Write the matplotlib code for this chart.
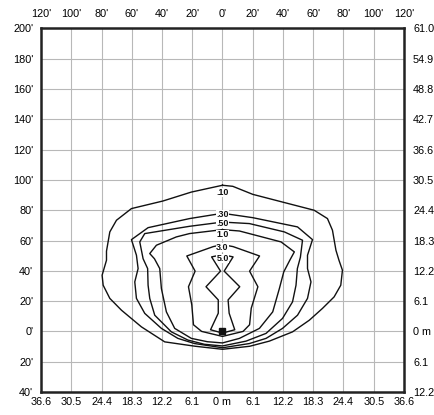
import matplotlib
matplotlib.use('Agg')
import matplotlib.pyplot as plt

plt.rcParams['font.family'] = ['Liberation Sans', 'DejaVu Sans']

# axis ticks (feet) and their labels
x_ticks = list(range(-120, 121, 20))
y_ticks = list(range(-40, 201, 20))
x_ft_labels = ["120'", "100'", "80'", "60'", "40'", "20'", "0'",
               "20'", "40'", "60'", "80'", "100'", "120'"]
x_m_labels = ["36.6", "30.5", "24.4", "18.3", "12.2", "6.1", "0 m",
              "6.1", "12.2", "18.3", "24.4", "30.5", "36.6"]
y_ft_labels = ["40'", "20'", "0'", "20'", "40'", "60'", "80'",
               "100'", "120'", "140'", "160'", "180'", "200'"]
y_m_labels = ["12.2", "6.1", "0 m", "6.1", "12.2", "18.3", "24.4",
              "30.5", "36.6", "42.7", "48.8", "54.9", "61.0"]

# isofootcandle contours (feet)
levels = [".10", ".30", ".50", "1.0", "3.0", "5.0"]
label_y = [92, 77.4, 71.2, 64.2, 55.5, 48.2]

c010_x = [0, 6.8, 20, 39.7, 60.6, 69.4, 72.7, 75, 77, 79.3, 78.2, 73.8, 66.1, 57.4,
          46.3, 31, 18, 0, -18, -38.2, -53.6, -66.8, -74.5, -78.9, -79.6, -76.7,
          -76.7, -74.5, -70.1, -60.2, -39.4, -20.6, 0]
c010_y = [96.5, 95.8, 90.5, 85.4, 80, 74.5, 66.8, 53.6, 47, 40.4, 30.5, 22.8, 15.2, 7.4,
          -0.3, -6.4, -9.8, -11.8, -9.8, -6.9, 3, 14, 21.8, 30.5, 37.1, 47,
          53, 65.7, 73.4, 81.1, 86.1, 92, 96.5]

c030_x = [0, 20, 49.6, 59.5, 56.2, 56.2, 58.5, 56.2, 49.6, 39.7, 28.8, 17.8, 0,
          -18.5, -29.5, -40.4, -51.4, -56.9, -58, -55.8, -56.9, -60.2, -49.2, -21.8, 0]
c030_y = [78, 75.1, 69, 60.6, 50.3, 41.5, 32.7, 21.8, 10.7, 2, -4.6, -8, -10.8,
          -8, -4.6, 2, 11.9, 21.8, 32.7, 41.5, 50.3, 60.6, 68.5, 74.5, 78]

c050_x = [0, 17.8, 40.9, 52.9, 51.5, 49.5, 48.6, 46.3, 39.7, 28.8, 15.6, 0,
          -12, -22.9, -33.8, -44.8, -48.1, -49.2, -49.5, -52.5, -54.7, -51.4, -21.8, 0]
c050_y = [72.2, 71.2, 65.7, 60.2, 49, 41.5, 30.5, 19.5, 8.6, -1.3, -6.4, -9.6,
          -8.5, -5.7, -0.3, 10.7, 21.8, 30.5, 41.5, 48, 59.1, 64.6, 69.4, 72.2]

c100_x = [0, 11.2, 38.7, 47.5, 44.5, 40.5, 37.6, 33.2, 24.4, 11.2, 0,
          -10, -20.6, -31.6, -37.1, -40.4, -41.5, -45, -48.1, -43.7, -30.5, -21.8, 0]
c100_y = [67.2, 66.3, 59.1, 52.5, 47, 39.3, 28.3, 12.9, 2, -4.6, -7.6,
          -6.8, -4.6, 2, 12.9, 28.3, 41.5, 48, 51.4, 56.9, 62.4, 64.6, 67.2]

c300_x = [0, 7, 24.5, 17.9, 23.4, 19, 17.9, 13.6, 0, -13.8, -19.2, -20.3,
          -22.5, -18.1, -23.6, -6.1, 0]
c300_y = [57.3, 56, 49.8, 39.8, 29.5, 15.3, 4.4, 0, -3.3, 0, 4.4, 17.5,
          29.5, 39.8, 49.8, 56, 57.3]

c500_x = [0, 7, 1.1, 11.4, 3.7, 4.4, 8.1, 0, -7.9, -2.8, -2.8, -10.9, -1.3, -7.2, 0]
c500_y = [50.7, 49.2, 39.8, 29.5, 20.8, 12, 1.1, -1.1, 1.1, 12, 20.8, 29.5, 39.8, 49.2, 50.7]

contours = [(c010_x, c010_y), (c030_x, c030_y), (c050_x, c050_y),
            (c100_x, c100_y), (c300_x, c300_y), (c500_x, c500_y)]

# luminaire location
lum_x = [0]
lum_y = [0.5]

fig = plt.figure(figsize=(4.35, 4.15), dpi=100)
ax = fig.add_axes([41 / 435, 23 / 415, 363 / 435, 363.5 / 415])

for cx, cy in contours:
    ax.plot(cx, cy, color='#111111', lw=1.0, zorder=3)

ax.plot(lum_x, lum_y, 's', color='#111111', ms=4.5, zorder=4)

for lev, ly in zip(levels, label_y):
    ax.text(0, ly, lev, ha='center', va='center', fontsize=6.4,
            fontweight='bold', color='#111111', zorder=5,
            bbox=dict(boxstyle='square,pad=0.0', facecolor='white', edgecolor='none'))

ax.set_xlim(-120, 120)
ax.set_ylim(-40, 200)
ax.set_xticks(x_ticks)
ax.set_yticks(y_ticks)
ax.set_xticklabels(x_m_labels)
ax.set_yticklabels(y_ft_labels)
ax.grid(True, color='#b8b8b8', lw=0.8, zorder=1)
ax.set_axisbelow(True)
ax.tick_params(axis='x', length=0, pad=3.5, labelsize=7.8)
ax.tick_params(axis='y', length=0, pad=5.5, labelsize=7.8)
for sp in ax.spines.values():
    sp.set_linewidth(1.8)
    sp.set_color('#222222')

top = ax.twiny()
top.set_xlim(ax.get_xlim())
top.set_xticks(x_ticks)
top.set_xticklabels(x_ft_labels)
top.tick_params(axis='x', length=0, pad=6.5, labelsize=7.8)

right = ax.twinx()
right.set_ylim(ax.get_ylim())
right.set_yticks(y_ticks)
right.set_yticklabels(y_m_labels)
right.tick_params(axis='y', length=0, pad=6.5, labelsize=7.8)

for extra in (top, right):
    for sp in extra.spines.values():
        sp.set_visible(False)

fig.savefig('out.png', dpi=100, facecolor='white')
